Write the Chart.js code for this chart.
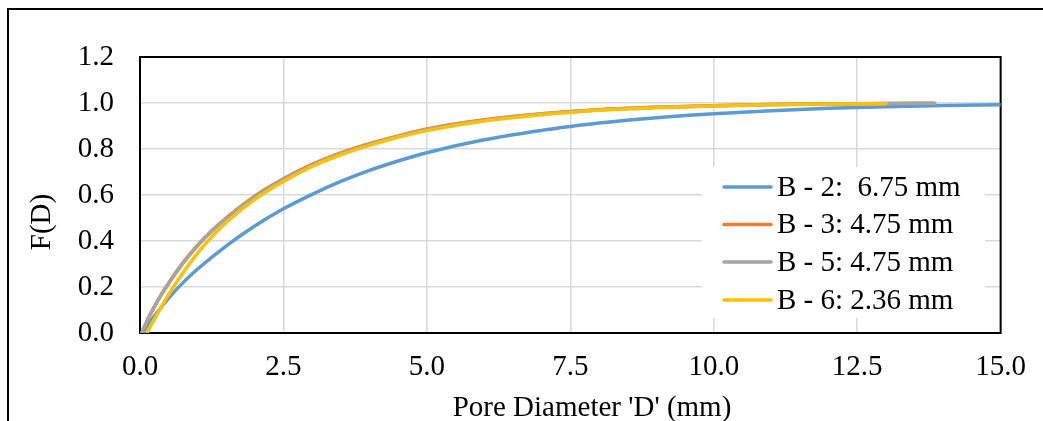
<!DOCTYPE html>
<html>
<head>
<meta charset="utf-8">
<script src="https://cdn.jsdelivr.net/npm/chart.js@4/dist/chart.umd.min.js"></script>
<style>
  html, body { margin: 0; padding: 0; background: #fff; }
  #wrap { position: relative; width: 1043px; height: 421px; }
</style>
</head>
<body>
<div id="wrap"><canvas id="c" width="1043" height="421"></canvas></div>
<script>
// ---- data ----
const seriesLabels = ['B - 2:  6.75 mm', 'B - 3: 4.75 mm', 'B - 5: 4.75 mm', 'B - 6: 2.36 mm'];
const seriesColors = ['#5B9BD5', '#ED7D31', '#A5A5A5', '#FFC000'];

const b2D = [0.05, 0.15, 0.3, 0.5, 0.75, 1.0, 1.5, 2.0, 2.5, 3.0, 3.5, 4.0, 4.5, 5.0, 6.0, 7.0, 7.5, 8.0, 9.0, 10.0, 11.0, 12.0, 13.0, 14.0, 15.0];
const b2F = [0.0, 0.04, 0.09, 0.152, 0.219, 0.277, 0.378, 0.465, 0.540, 0.603, 0.659, 0.707, 0.748, 0.784, 0.840, 0.881, 0.898, 0.913, 0.936, 0.953, 0.966, 0.977, 0.984, 0.989, 0.992];

const b3D = [0.03, 0.15, 0.3, 0.5, 0.75, 1.0, 1.25, 1.5, 2.0, 2.5, 3.0, 3.5, 4.0, 4.5, 5.0, 6.0, 7.0, 7.5, 8.0, 9.0, 10.0, 11.0, 12.0, 13.0, 13.85];
const b3F = [0.0, 0.067, 0.138, 0.218, 0.306, 0.381, 0.445, 0.5, 0.595, 0.67, 0.733, 0.783, 0.823, 0.857, 0.887, 0.927, 0.953, 0.963, 0.971, 0.981, 0.988, 0.993, 0.996, 0.998, 0.999];

const b5D = [0.03, 0.15, 0.3, 0.5, 0.75, 1.0, 1.25, 1.5, 2.0, 2.5, 3.0, 3.5, 4.0, 4.5, 5.0, 6.0, 7.0, 7.5, 8.0, 9.0, 10.0, 11.0, 12.0, 13.0, 13.85];
const b5F = [0.0, 0.065, 0.135, 0.215, 0.303, 0.378, 0.442, 0.497, 0.592, 0.667, 0.73, 0.78, 0.82, 0.855, 0.885, 0.925, 0.952, 0.962, 0.970, 0.981, 0.988, 0.993, 0.996, 0.998, 0.999];

const b6D = [0.12, 0.25, 0.5, 0.75, 1.0, 1.25, 1.5, 2.0, 2.5, 3.0, 3.5, 4.0, 4.5, 5.0, 6.0, 7.0, 7.5, 8.0, 9.0, 10.0, 11.0, 12.0, 13.0];
const b6F = [0.0, 0.06, 0.168, 0.262, 0.346, 0.418, 0.48, 0.581, 0.659, 0.724, 0.775, 0.816, 0.851, 0.880, 0.922, 0.949, 0.959, 0.968, 0.979, 0.987, 0.992, 0.995, 0.997];

const xTicks = [0, 2.5, 5, 7.5, 10, 12.5, 15];
const yTicks = [0, 0.2, 0.4, 0.6, 0.8, 1.0, 1.2];
const xTitle = "Pore Diameter 'D' (mm)";
const yTitle = 'F(D)';

// ---- build ----
const FONT = '"Liberation Serif", "Times New Roman", serif';
const FS = 29;
function pts(xs, ys) { return xs.map((x, i) => ({ x: x, y: ys[i] })); }
const allD = [b2D, b3D, b5D, b6D];
const allF = [b2F, b3F, b5F, b6F];
const datasets = seriesLabels.map((lab, i) => ({
  label: lab,
  data: pts(allD[i], allF[i]),
  borderColor: seriesColors[i],
  backgroundColor: seriesColors[i],
  borderWidth: 3.5,
  pointRadius: 0,
  fill: false,
  order: 3 - i,
  cubicInterpolationMode: 'monotone',
  borderCapStyle: 'round'
}));

const framePlugin = {
  id: 'frame',
  beforeDatasetsDraw(chart) {
    const ctx = chart.ctx, a = chart.chartArea;
    ctx.save();
    ctx.strokeStyle = '#000';
    ctx.lineWidth = 2;
    ctx.strokeRect(a.left, a.top, a.right - a.left, a.bottom - a.top);
    ctx.restore();
  },
  afterDraw(chart) {
    const ctx = chart.ctx;
    ctx.save();
    ctx.strokeStyle = '#000';
    ctx.lineWidth = 2;
    ctx.beginPath();
    ctx.moveTo(8, 421);
    ctx.lineTo(8, 9);
    ctx.lineTo(1043, 9);
    ctx.stroke();
    ctx.fillStyle = '#000';
    ctx.font = FS + 'px ' + FONT;
    ctx.textAlign = 'center';
    ctx.textBaseline = 'middle';
    ctx.fillText(xTitle, 592, 408);
    ctx.translate(42, 222);
    ctx.rotate(-Math.PI / 2);
    ctx.fillText(yTitle, 0, 0);
    ctx.restore();

    ctx.save();
    const lx = 702, ly = 167, lw = 283, lh = 151;
    ctx.fillStyle = '#fff';
    ctx.fillRect(lx, ly, lw, lh);
    const rows = [187, 224.5, 262, 300];
    ctx.font = FS + 'px ' + FONT;
    ctx.textAlign = 'left';
    ctx.textBaseline = 'middle';
    chart.data.datasets.forEach((ds, i) => {
      ctx.strokeStyle = ds.borderColor;
      ctx.lineWidth = 3.5;
      ctx.lineCap = 'round';
      ctx.beginPath();
      ctx.moveTo(724, rows[i]);
      ctx.lineTo(771, rows[i]);
      ctx.stroke();
      ctx.fillStyle = '#000';
      ctx.fillText(ds.label, 777, rows[i] + 1);
    });
    ctx.restore();
  }
};

new Chart(document.getElementById('c'), {
  type: 'line',
  data: { datasets: datasets },
  options: {
    responsive: false,
    animation: false,
    devicePixelRatio: 1,
    layout: { padding: { left: 0, top: 57, right: 41, bottom: 0 } },
    plugins: { legend: { display: false }, tooltip: { enabled: false }, title: { display: false } },
    scales: {
      x: {
        type: 'linear',
        min: 0, max: 15,
        afterFit(s) { s.height = 88; },
        afterBuildTicks(s) { s.ticks = xTicks.map(v => ({ value: v })); },
        grid: { color: '#D9D9D9', lineWidth: 1.5, drawTicks: false },
        border: { display: false },
        ticks: {
          padding: 17,
          maxRotation: 0,
          autoSkip: false,
          color: '#000',
          font: { family: FONT, size: FS },
          callback: v => Number(v).toFixed(1)
        }
      },
      y: {
        type: 'linear',
        min: 0, max: 1.2,
        afterFit(s) { s.width = 140; },
        afterBuildTicks(s) { s.ticks = yTicks.map(v => ({ value: v })); },
        grid: { color: '#D9D9D9', lineWidth: 1.5, drawTicks: false },
        border: { display: false },
        ticks: {
          padding: 26,
          autoSkip: false,
          color: '#000',
          font: { family: FONT, size: FS },
          callback: v => Number(v).toFixed(1)
        }
      }
    }
  },
  plugins: [framePlugin]
});
</script>
</body>
</html>
